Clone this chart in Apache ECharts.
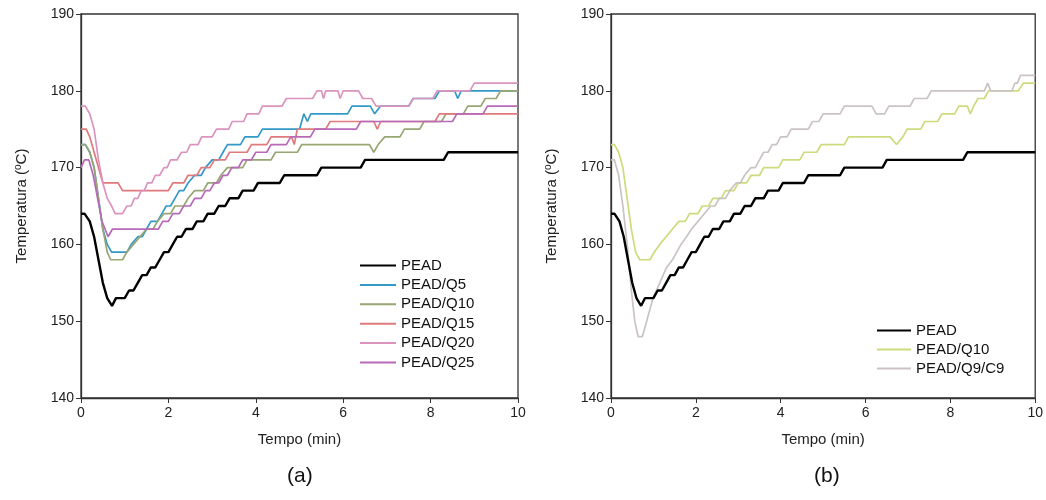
<!DOCTYPE html>
<html>
<head>
<meta charset="utf-8">
<script src="https://cdn.jsdelivr.net/npm/echarts@6/dist/echarts.min.js"></script>
<style>
html,body{margin:0;padding:0;background:#fff;}
#c{width:1046px;height:500px;}
</style>
</head>
<body>
<div id="c"></div>
<script>
// ---- Data: [time (min), temperature (°C)] ----
const xTicks = [0, 2, 4, 6, 8, 10];
const yTicks = [140, 150, 160, 170, 180, 190];

const pead = [[0,164],[0.08,164],[0.2,163],[0.3,161],[0.4,158],[0.5,155],[0.6,153],[0.71,152],[0.8,153],[1.0,153],[1.1,154],[1.2,154],[1.3,155],[1.4,156],[1.5,156],[1.6,157],[1.7,157],[1.8,158],[1.9,159],[2.0,159],[2.1,160],[2.2,161],[2.3,161],[2.4,162],[2.55,162],[2.65,163],[2.8,163],[2.9,164],[3.05,164],[3.15,165],[3.3,165],[3.4,166],[3.6,166],[3.7,167],[3.95,167],[4.05,168],[4.55,168],[4.65,169],[5.4,169],[5.5,170],[6.4,170],[6.5,171],[8.3,171],[8.4,172],[10,172]];

const peadQ5 = [[0,173],[0.1,173],[0.2,172],[0.3,170],[0.4,166],[0.5,162],[0.6,160],[0.7,159],[1.05,159],[1.15,160],[1.3,161],[1.4,161],[1.5,162],[1.6,163],[1.75,163],[1.85,164],[1.95,165],[2.05,165],[2.15,166],[2.25,167],[2.35,167],[2.45,168],[2.6,169],[2.75,169],[2.85,170],[3.0,171],[3.15,171],[3.25,172],[3.35,173],[3.65,173],[3.75,174],[4.05,174],[4.15,175],[5.0,175],[5.1,177],[5.18,176],[5.26,177],[6.1,177],[6.2,178],[6.62,178],[6.72,177],[6.85,178],[7.5,178],[7.6,179],[8.1,179],[8.2,180],[8.55,180],[8.62,179],[8.7,180],[10,180]];

const peadQ10 = [[0,173],[0.1,173],[0.2,172],[0.3,170],[0.4,166],[0.5,162],[0.6,159],[0.68,158],[0.95,158],[1.05,159],[1.2,160],[1.35,161],[1.5,162],[1.65,162],[1.75,163],[1.9,164],[2.05,164],[2.15,165],[2.35,165],[2.45,166],[2.6,167],[2.8,167],[2.9,168],[3.1,168],[3.2,169],[3.35,170],[3.7,170],[3.8,171],[4.35,171],[4.45,172],[4.95,172],[5.05,173],[6.6,173],[6.7,172],[6.8,173],[6.95,174],[7.3,174],[7.4,175],[7.75,175],[7.85,176],[8.25,176],[8.35,177],[8.75,177],[8.85,178],[9.15,178],[9.25,179],[9.5,179],[9.6,180],[10,180]];

const peadQ15 = [[0,175],[0.12,175],[0.2,174],[0.3,172],[0.4,170],[0.5,168],[0.85,168],[0.95,167],[2.0,167],[2.1,168],[2.35,168],[2.45,169],[2.65,169],[2.75,170],[2.95,170],[3.05,171],[3.3,171],[3.4,172],[3.8,172],[3.9,173],[4.25,173],[4.35,174],[4.82,174],[4.88,173],[4.95,175],[5.6,175],[5.7,176],[6.7,176],[6.78,175],[6.86,176],[8.1,176],[8.2,177],[10,177]];

const peadQ20 = [[0,178],[0.1,178],[0.2,177],[0.3,175],[0.4,171],[0.5,168],[0.6,166],[0.7,165],[0.78,164],[0.95,164],[1.05,165],[1.15,165],[1.22,166],[1.3,166],[1.38,167],[1.45,167],[1.52,168],[1.62,168],[1.7,169],[1.8,169],[1.9,170],[1.97,170],[2.05,171],[2.2,171],[2.3,172],[2.42,172],[2.5,173],[2.68,173],[2.76,174],[3.0,174],[3.1,175],[3.38,175],[3.46,176],[3.72,176],[3.8,177],[4.07,177],[4.15,178],[4.6,178],[4.7,179],[5.3,179],[5.4,180],[5.5,180],[5.55,179],[5.6,180],[5.88,180],[5.93,179],[6.0,180],[6.35,180],[6.45,179],[6.65,179],[6.75,178],[7.5,178],[7.6,179],[8.05,179],[8.15,180],[8.9,180],[9.0,181],[10,181]];

const peadQ25 = [[0,170],[0.08,171],[0.18,171],[0.28,169],[0.38,166],[0.48,163],[0.62,161],[0.72,162],[1.77,162],[1.87,163],[2.0,163],[2.1,164],[2.25,164],[2.35,165],[2.5,165],[2.6,166],[2.75,166],[2.85,167],[2.95,167],[3.05,168],[3.15,168],[3.25,169],[3.35,169],[3.45,170],[3.6,170],[3.7,171],[3.9,171],[4.0,172],[4.25,172],[4.35,173],[4.7,173],[4.8,174],[5.25,174],[5.35,175],[6.3,175],[6.4,176],[8.5,176],[8.6,177],[9.2,177],[9.3,178],[10,178]];

const peadQ10b = [[0,173],[0.08,173],[0.18,172],[0.28,170],[0.38,166],[0.48,162],[0.58,159],[0.68,158],[0.92,158],[1.02,159],[1.15,160],[1.3,161],[1.45,162],[1.6,163],[1.75,163],[1.85,164],[2.05,164],[2.15,165],[2.3,165],[2.4,166],[2.6,166],[2.7,167],[2.9,167],[3.0,168],[3.2,168],[3.3,169],[3.5,169],[3.6,170],[3.95,170],[4.05,171],[4.45,171],[4.55,172],[4.85,172],[4.95,173],[5.5,173],[5.6,174],[6.58,174],[6.73,173],[6.88,174],[6.98,175],[7.3,175],[7.4,176],[7.7,176],[7.8,177],[8.1,177],[8.2,178],[8.4,178],[8.47,177],[8.55,178],[8.65,179],[8.8,179],[8.9,180],[9.6,180],[9.72,181],[10,181]];

const peadQ9C9 = [[0,171],[0.08,171],[0.18,169],[0.28,165],[0.38,160],[0.48,154],[0.56,150],[0.64,148],[0.74,148],[0.84,150],[0.99,153],[1.15,155],[1.31,157],[1.45,158],[1.55,159],[1.65,160],[1.78,161],[1.9,162],[2.05,163],[2.2,164],[2.35,165],[2.45,165],[2.55,166],[2.7,166],[2.8,167],[2.95,168],[3.05,168],[3.15,169],[3.3,170],[3.4,170],[3.5,171],[3.6,172],[3.7,172],[3.8,173],[3.9,173],[4.0,174],[4.15,174],[4.25,175],[4.65,175],[4.75,176],[4.9,176],[5.0,177],[5.4,177],[5.5,178],[6.15,178],[6.25,177],[6.45,177],[6.55,178],[7.05,178],[7.15,179],[7.45,179],[7.55,180],[8.8,180],[8.88,181],[8.95,180],[9.45,180],[9.52,181],[9.58,181],[9.65,182],[10,182]];

const namesLeft = ['PEAD','PEAD/Q5','PEAD/Q10','PEAD/Q15','PEAD/Q20','PEAD/Q25'];
const namesRight = ['PEAD','PEAD/Q10','PEAD/Q9/C9'];
const colorsLeft = ['#000000','#3399c6','#97a673','#e07a7c','#dc93bd','#b86ab8'];
const colorsRight = ['#000000','#cddb7c','#cbc3c3'];

// ---- Chart ----
const NARROW = "'Liberation Sans Narrow','Arial Narrow','Liberation Sans',Arial,sans-serif";
const SANS = "'Liberation Sans',Arial,sans-serif";
const AX = '#333';

function xAxis(gi){
  return {
    gridIndex: gi, type:'value', min: xTicks[0], max: xTicks[xTicks.length-1], interval: 2,
    axisLine:{show:true, onZero:false, lineStyle:{color:AX, width:1.3}},
    axisTick:{show:true, inside:false, length:5, lineStyle:{color:AX, width:1}},
    axisLabel:{fontFamily:NARROW, fontSize:14, color:'#222', margin:8},
    splitLine:{show:false},
    name:'Tempo (min)', nameLocation:'middle', nameGap:34,
    nameTextStyle:{fontFamily:NARROW, fontSize:15, color:'#222'}
  };
}
function yAxis(gi){
  return {
    gridIndex: gi, type:'value', min: yTicks[0], max: yTicks[yTicks.length-1], interval: 10,
    axisLine:{show:true, onZero:false, lineStyle:{color:AX, width:1.3}},
    axisTick:{show:true, inside:false, length:5, lineStyle:{color:AX, width:1}},
    axisLabel:{fontFamily:NARROW, fontSize:14, color:'#222', margin:7},
    splitLine:{show:false},
    name:'Temperatura ({sup|o}C)', nameLocation:'middle', nameGap:50, nameRotate:90,
    nameTextStyle:{fontFamily:SANS, fontSize:15, color:'#222',
      rich:{sup:{fontFamily:SANS, fontSize:10, color:'#222', verticalAlign:'top', lineHeight:18}}}
  };
}

function mk(name, data, color, w, gi, z){
  return {name, type:'line', xAxisIndex:gi, yAxisIndex:gi, data, symbol:'none', showSymbol:false,
    lineStyle:{color, width:w}, itemStyle:{color}, z: z||2, animation:false};
}

const leftData = [pead, peadQ5, peadQ10, peadQ15, peadQ20, peadQ25];
const rightData = [pead, peadQ10b, peadQ9C9];

const series = [];
leftData.forEach((d,i)=>series.push(mk(namesLeft[i], d, colorsLeft[i], i===0?2.4:1.7, 0, i===0?3:2)));
rightData.forEach((d,i)=>series.push(mk(namesRight[i], d, colorsRight[i], i===0?2.4:1.7, 1, i===0?3:2)));

function legendItems(names, colors){
  return names.map((n,i)=>({name:n, icon:'rect', itemStyle:{color:colors[i], borderWidth:0}}));
}

const option = {
  backgroundColor:'#fff',
  animation:false,
  grid:[
    {left:81, top:14, width:437, height:384, show:true, borderColor:AX, borderWidth:1.3, backgroundColor:'transparent'},
    {left:611, top:14, width:425, height:384, show:true, borderColor:AX, borderWidth:1.3, backgroundColor:'transparent'}
  ],
  xAxis:[xAxis(0), xAxis(1)],
  yAxis:[yAxis(0), yAxis(1)],
  legend:[
    {orient:'vertical', left:360, top:258, itemWidth:36, itemHeight:2, itemGap:4.4, padding:0, icon:'rect',
      textStyle:{fontFamily:SANS, fontSize:15, color:'#111'}, selectedMode:false,
      data: legendItems(namesLeft, colorsLeft)},
    {orient:'vertical', left:877, top:323, itemWidth:34, itemHeight:2, itemGap:4, padding:0, icon:'rect',
      textStyle:{fontFamily:SANS, fontSize:15, color:'#111'}, selectedMode:false,
      data: legendItems(namesRight, colorsRight)}
  ],
  graphic:[
    {type:'text', left:287, top:466, style:{text:'(a)', fontFamily:SANS, fontSize:21, fill:'#111'}},
    {type:'text', left:814, top:466, style:{text:'(b)', fontFamily:SANS, fontSize:21, fill:'#111'}}
  ],
  series
};

const chart = echarts.init(document.getElementById('c'), null, {renderer:'canvas'});
chart.setOption(option);
</script>
</body>
</html>
